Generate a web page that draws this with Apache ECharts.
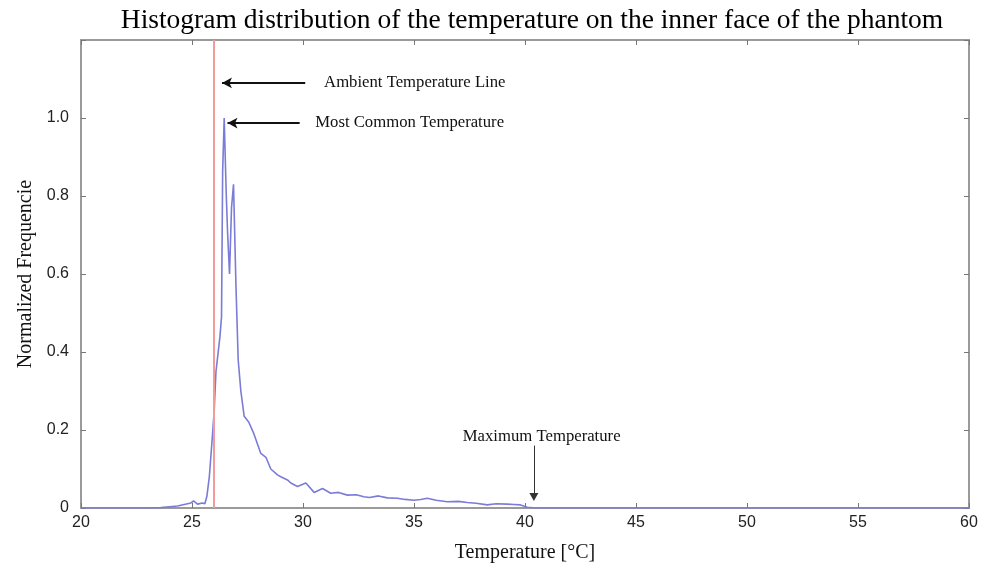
<!DOCTYPE html>
<html>
<head>
<meta charset="utf-8">
<script src="https://cdn.jsdelivr.net/npm/echarts@6/dist/echarts.min.js"></script>
<style>
  html, body { margin: 0; padding: 0; background: #fff; }
  #chart { width: 994px; height: 575px; }
</style>
</head>
<body>
<div id="chart"></div>
<script>
// temperature (°C) and normalized frequency
const temps = [20, 22.9, 23.6, 24.35, 24.95, 25.07, 25.25, 25.47, 25.58, 25.67, 25.78, 25.9,
  26.0, 26.08, 26.26, 26.33, 26.38, 26.45, 26.54, 26.6, 26.69, 26.78, 26.87, 26.98, 27.08,
  27.2, 27.35, 27.56, 27.79, 28.1, 28.33, 28.55, 28.85, 29.0, 29.3, 29.45, 29.75, 30.13,
  30.5, 30.88, 31.25, 31.6, 32.0, 32.4, 32.74, 33.0, 33.4, 33.8, 34.25, 34.6, 35.0, 35.3,
  35.6, 36.0, 36.5, 37.0, 37.4, 37.8, 38.3, 38.7, 39.2, 39.5, 39.8, 40.1, 40.5, 60]
const freqs = [0, 0, 0.001, 0.005, 0.013, 0.018, 0.01, 0.013, 0.011, 0.03, 0.08, 0.17,
  0.25, 0.35, 0.44, 0.49, 0.86, 1.0, 0.81, 0.71, 0.60, 0.77, 0.83, 0.57, 0.38,
  0.30, 0.235, 0.22, 0.19, 0.14, 0.13, 0.10, 0.085, 0.08, 0.072, 0.064, 0.055, 0.064,
  0.04, 0.05, 0.038, 0.04, 0.033, 0.034, 0.029, 0.027, 0.031, 0.026, 0.025, 0.022, 0.02, 0.022,
  0.025, 0.02, 0.016, 0.017, 0.014, 0.012, 0.008, 0.011, 0.01, 0.009, 0.008, 0.002, 0, 0]

const xTicks = [20, 25, 30, 35, 40, 45, 50, 55, 60]
const yTicks = [0, 0.2, 0.4, 0.6, 0.8, 1.0]
const ambientTemp = 26.0
const maxTemp = 40.4

const data = temps.map((t, i) => [t, freqs[i]])

const frameColor = '#9a9a9a'
const serif = '"Liberation Serif", "DejaVu Serif", serif'
const sans = '"Liberation Sans", Arial, sans-serif'

function axisBase(pos) {
  return {
    type: 'value',
    position: pos,
    axisLine: { show: true, onZero: false, lineStyle: { color: frameColor, width: 2 } },
    axisTick: { show: true, inside: true, length: 5, lineStyle: { color: '#777', width: 1 } },
    splitLine: { show: false }
  }
}

const myChart = echarts.init(document.getElementById('chart'))

const arrowStyle = { color: '#111', width: 1.8, type: 'solid' }

let option = {
  animation: false,
  title: {
    text: 'Histogram distribution of the temperature on the inner face of the phantom',
    left: 527,
    textAlign: 'center',
    top: 2,
    textStyle: { fontFamily: serif, fontSize: 27.5, fontWeight: 'normal', color: '#000' }
  },
  grid: { left: 81, right: 25, top: 40, bottom: 67 },
  xAxis: [
    Object.assign(axisBase('bottom'), {
      min: 20, max: 60, interval: 5,
      name: 'Temperature [°C]',
      nameLocation: 'middle',
      nameGap: 35,
      nameTextStyle: { fontFamily: serif, fontSize: 20, color: '#111' },
      axisLabel: {
        margin: 7, fontFamily: sans, fontSize: 16, color: '#222',
        formatter: v => xTicks.includes(v) ? String(v) : ''
      }
    }),
    Object.assign(axisBase('top'), {
      min: 20, max: 60, interval: 5, axisLabel: { show: false }
    })
  ],
  yAxis: [
    Object.assign(axisBase('left'), {
      min: 0, max: 1.2, interval: 0.2,
      name: 'Normalized Frequencie',
      nameLocation: 'middle',
      nameGap: 44,
      nameTextStyle: { fontFamily: serif, fontSize: 20, color: '#111' },
      axisLabel: {
        margin: 12, fontFamily: sans, fontSize: 16, color: '#222',
        formatter: v => {
          const y = yTicks.find(t => Math.abs(t - v) < 1e-6)
          if (y === undefined) return ''
          return y === 0 ? '0' : y.toFixed(1)
        }
      }
    }),
    Object.assign(axisBase('right'), {
      min: 0, max: 1.2, interval: 0.2, axisLabel: { show: false }
    })
  ],
  series: [
    {
      name: 'Frequency',
      type: 'line',
      xAxisIndex: 0,
      yAxisIndex: 0,
      data: data,
      showSymbol: false,
      z: 3,
      lineStyle: { color: '#7b7bd8', width: 1.6 },
      markLine: {
        silent: true,
        symbol: ['none', 'none'],
        label: { show: false },
        lineStyle: { type: 'solid' },
        data: [
          [
            { coord: [ambientTemp, 0], lineStyle: { color: '#f39a9a', width: 2, type: 'solid' } },
            { coord: [ambientTemp, 1.2] }
          ],
          [
            { coord: [30.1, 1.09], symbol: 'none', lineStyle: arrowStyle },
            { coord: [26.35, 1.09], symbol: 'arrow', symbolSize: [8, 10] }
          ],
          [
            { coord: [29.85, 0.987], symbol: 'none', lineStyle: arrowStyle },
            { coord: [26.6, 0.987], symbol: 'arrow', symbolSize: [8, 10] }
          ],
          [
            { coord: [maxTemp, 0.16], symbol: 'none', lineStyle: { color: '#333', width: 1, type: 'solid' } },
            { coord: [maxTemp, 0.028], symbol: 'triangle', symbolSize: [9, 8], symbolRotate: 180 }
          ]
        ]
      },
      markPoint: {
        silent: true,
        symbol: 'circle',
        symbolSize: 0,
        label: {
          show: true,
          formatter: '{b}',
          fontFamily: serif,
          fontSize: 16.7,
          color: '#111'
        },
        data: [
          { name: 'Ambient Temperature Line', coord: [30.95, 1.09], label: { position: 'right', distance: 0 } },
          { name: 'Most Common Temperature', coord: [30.55, 0.987], label: { position: 'right', distance: 0 } },
          { name: 'Maximum Temperature', coord: [40.75, 0.183], label: { position: 'inside' } }
        ]
      }
    }
  ]
}

myChart.setOption(option)
</script>
</body>
</html>
